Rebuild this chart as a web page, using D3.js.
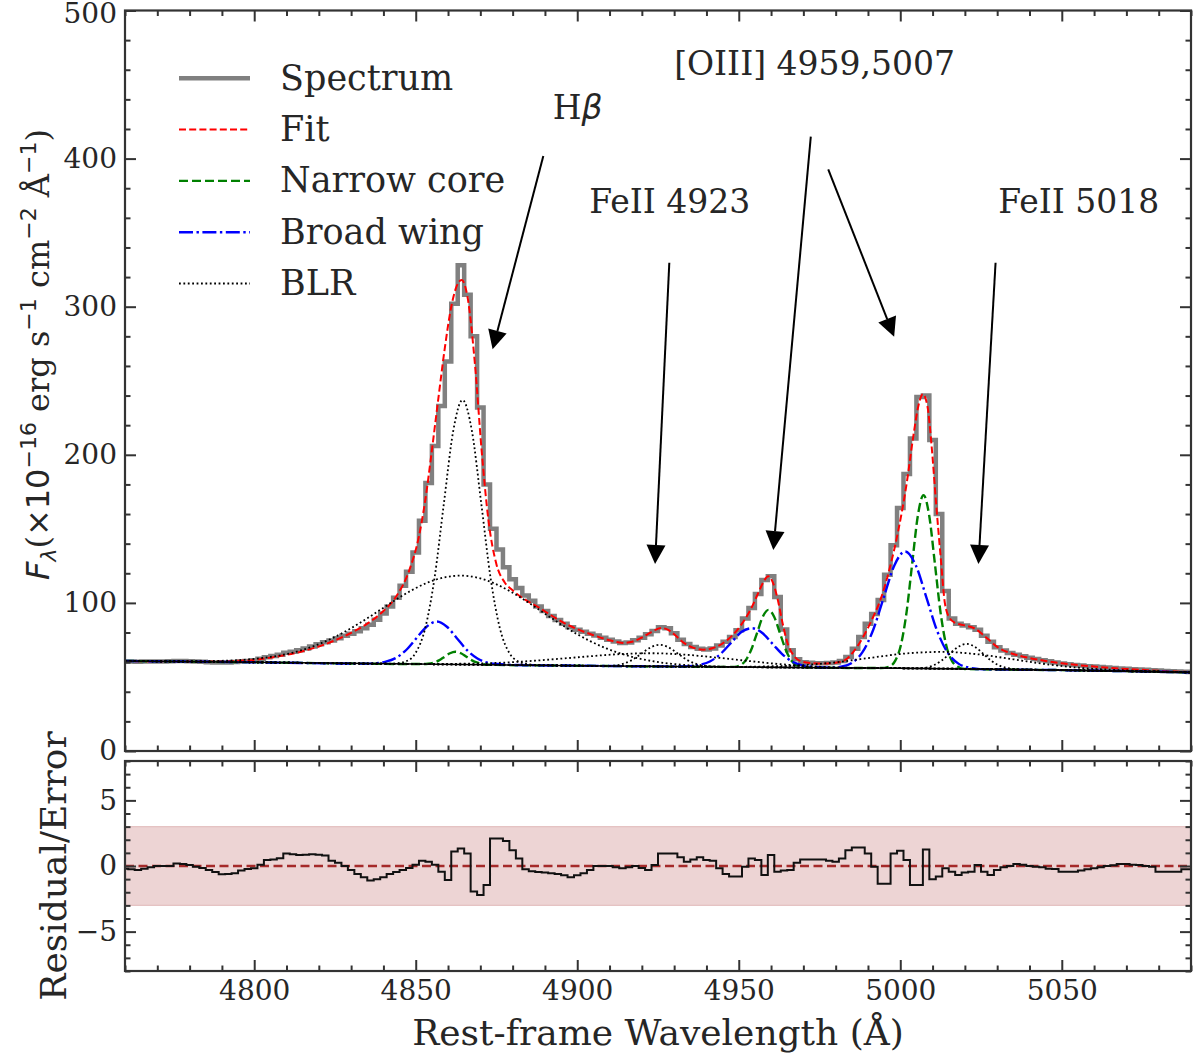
<!DOCTYPE html>
<html>
<head>
<meta charset="utf-8">
<script src="https://cdn.jsdelivr.net/npm/d3@7/dist/d3.min.js"></script>
<style>
  body { margin: 0; background: #fff; }
  svg { display: block; }
  text { font-family: "DejaVu Serif", serif; fill: #262626; }
</style>
</head>
<body>
<div id="chart"></div>
<script>
// ---- data -----------------------------------------------------------------

// spectrum pixel grid (rest-frame Angstrom) and observed flux per bin
var specWave = [
  4760, 4762, 4764, 4766, 4768, 4770, 4772, 4774, 4776, 4778,
  4780, 4782, 4784, 4786, 4788, 4790, 4792, 4794, 4796, 4798,
  4800, 4802, 4804, 4806, 4808, 4810, 4812, 4814, 4816, 4818,
  4820, 4822, 4824, 4826, 4828, 4830, 4832, 4834, 4836, 4838,
  4840, 4842, 4844, 4846, 4848, 4850, 4852, 4854, 4856, 4858,
  4860, 4862, 4864, 4866, 4868, 4870, 4872, 4874, 4876, 4878,
  4880, 4882, 4884, 4886, 4888, 4890, 4892, 4894, 4896, 4898,
  4900, 4902, 4904, 4906, 4908, 4910, 4912, 4914, 4916, 4918,
  4920, 4922, 4924, 4926, 4928, 4930, 4932, 4934, 4936, 4938,
  4940, 4942, 4944, 4946, 4948, 4950, 4952, 4954, 4956, 4958,
  4960, 4962, 4964, 4966, 4968, 4970, 4972, 4974, 4976, 4978,
  4980, 4982, 4984, 4986, 4988, 4990, 4992, 4994, 4996, 4998,
  5000, 5002, 5004, 5006, 5008, 5010, 5012, 5014, 5016, 5018,
  5020, 5022, 5024, 5026, 5028, 5030, 5032, 5034, 5036, 5038,
  5040, 5042, 5044, 5046, 5048, 5050, 5052, 5054, 5056, 5058,
  5060, 5062, 5064, 5066, 5068, 5070, 5072, 5074, 5076, 5078,
  5080, 5082, 5084, 5086, 5088, 5090
];
var specFlux = [
  60.4, 60.4, 60.2, 60.4, 60.5, 60.5, 60.5, 60.6, 60.8, 60.7,
  60.6, 60.4, 60.3, 60.0, 59.8, 59.7, 59.8, 60.1, 60.5, 60.8,
  61.2, 62.3, 63.3, 64.2, 65.0, 66.3, 67.1, 68.0, 69.2, 70.6,
  72.0, 73.4, 74.6, 76.2, 77.9, 79.2, 80.9, 82.8, 85.2, 88.6,
  92.8, 97.5, 103.5, 111.5, 121.0, 134.0, 155.5, 181.0, 206.0, 233.0,
  263.0, 302.0, 328.0, 308.0, 280.0, 232.0, 180.0, 150.0, 136.0, 124.0,
  116.0, 110.0, 105.0, 101.5, 97.5, 94.5, 91.2, 88.5, 86.0, 83.5,
  81.8, 80.5, 79.2, 78.0, 76.5, 75.2, 74.0, 73.0, 73.2, 74.8,
  76.4, 78.9, 81.0, 83.5, 82.8, 79.5, 75.2, 72.2, 70.2, 69.1,
  68.5, 69.2, 71.3, 73.8, 77.0, 81.5, 89.5, 96.5, 106.0, 115.5,
  118.0, 104.0, 82.0, 68.0, 62.0, 60.0, 59.6, 59.3, 59.2, 59.4,
  59.8, 60.8, 63.5, 69.0, 77.0, 86.0, 92.5, 102.0, 119.0, 139.0,
  164.0, 187.0, 211.0, 239.0, 240.0, 210.0, 160.0, 108.0, 89.5, 86.0,
  84.8, 83.6, 81.8, 77.8, 73.8, 70.0, 67.8, 66.2, 65.0, 63.9,
  63.0, 62.1, 61.3, 60.6, 59.8, 59.0, 58.5, 58.1, 57.7, 57.3,
  57.0, 56.7, 56.3, 56.0, 55.7, 55.5, 55.2, 55.0, 54.8, 54.6,
  54.3, 54.0, 53.8, 53.6, 53.5, 53.3
];
// (flux - model) / error on the same grid
var residual = [
  -0.2, -0.25, -0.3, -0.2, -0.1, 0.0, 0.0, 0.0, 0.2, 0.15,
  0.08, -0.05, -0.15, -0.3, -0.45, -0.63, -0.6, -0.55, -0.35, -0.22,
  -0.18, 0.1, 0.45, 0.5, 0.6, 0.96, 0.9, 0.83, 0.85, 0.9,
  0.85, 0.8, 0.4, 0.25, 0.0, -0.3, -0.6, -0.85, -1.1, -1.0,
  -0.85, -0.6, -0.45, -0.3, -0.15, 0.1, 0.4, 0.33, 0.1, -0.43,
  -1.06, 1.1, 1.34, 0.96, -1.94, -2.2, -1.44, 2.1, 2.1, 1.9,
  1.2, 0.58, -0.25, -0.4, -0.45, -0.5, -0.55, -0.6, -0.7, -0.86,
  -0.7, -0.55, -0.3, 0.0, 0.0, 0.0, -0.1, -0.18, -0.1, 0.0,
  -0.15, -0.3, 0.08, 0.96, 0.96, 0.96, 0.66, 0.33, 0.5, 0.66,
  0.45, 0.4, -0.18, -0.6, -0.8, -0.8, -0.05, 0.58, 0.45, -0.68,
  0.83, -0.43, -0.35, -0.3, 0.25, 0.5, 0.5, 0.5, 0.5, 0.4,
  0.33, 0.58, 1.2, 1.41, 1.41, 0.96, -0.05, -1.36, -1.36, 0.96,
  1.16, 0.45, -1.44, -1.44, 1.26, -1.01, -0.8, -0.18, -0.43, -0.68,
  -0.5, -0.43, 0.08, -0.43, -0.68, -0.3, -0.1, 0.0, 0.15, 0.1,
  0.0, -0.05, -0.1, -0.2, -0.23, -0.43, -0.43, -0.43, -0.35, -0.25,
  -0.18, -0.1, 0.0, 0.05, 0.15, 0.15, 0.1, 0.08, 0.0, -0.05,
  -0.43, -0.43, -0.43, -0.43, -0.25, -0.25
];

// total model [wavelength, flux]
var fitModel = [
  [4760,60.6],[4770,60.5],[4780,60.4],[4790,60.6],[4795,60.9],[4800,61.5],[4805,63.0],
  [4810,64.9],[4815,67.4],[4820,70.6],[4825,74.7],[4830,79.8],[4835,86.0],[4840,94.5],
  [4844,104.5],[4848,122],[4851,145],[4853,170],[4855,203],[4857,238],[4859,272],
  [4861,300],[4862.7,314],[4864.2,318],[4866,307],[4868.3,262],[4870.4,203],[4872.5,156],
  [4875,126],[4877.5,114],[4880,108.5],[4884,102],[4888,97],[4892,91.5],[4896,86.3],
  [4900,82.3],[4905,78.2],[4910,74.8],[4914,73.0],[4917,73.8],[4920,76.6],[4923,80.3],
  [4926,83.0],[4928,82.0],[4930,78.8],[4933,73.0],[4936,69.6],[4939,68.4],[4942,69.5],
  [4945,72.6],[4948,78],[4951,86],[4954,97],[4956,106.5],[4957.5,113.5],[4959.1,118],
  [4960.5,114],[4962,103],[4963.5,87],[4965,73.5],[4967,64.5],[4969,60.8],[4972,59.4],
  [4976,59.0],[4980,59.6],[4983,61.5],[4985.5,67],[4988.5,77],[4991.5,90],[4994,103],
  [4996.8,124],[4999.4,149],[5002,181],[5004,212],[5005.6,233],[5007,241],[5008.4,233],
  [5009.7,206],[5011.1,167],[5012.5,131],[5013.8,100],[5015.2,90],[5017,86.5],[5020,84.8],
  [5023,82.8],[5025.7,78.3],[5028,74],[5030,70.3],[5033,67],[5036,64.8],[5040,62.8],
  [5045,60.8],[5050,59.2],[5055,58],[5060,57],[5065,56.1],[5070,55.4],[5075,54.8],
  [5080,54.2],[5085,53.7],[5090,53.3]
];

// power-law continuum
var continuum = [
  [4760,60.8],[4800,59.9],[4850,58.7],[4900,57.6],[4950,56.7],[5000,55.9],[5050,54.6],[5090,53.1]
];

// narrow cores: Hbeta, [OIII]4959, [OIII]5007 (on top of continuum)
var narrowCore = [
  [4760,60.8],[4800,59.9],[4852,58.7],[4853.8,58.9],[4855.5,59.6],[4857.2,61.2],[4858.9,63.6],
  [4860.6,66.0],[4862.3,67.0],[4864,66.0],[4865.7,63.6],[4867.4,61.2],[4869.1,59.6],
  [4870.8,58.6],[4873,58.2],[4900,57.6],[4946,56.8],[4948.7,56.8],[4950.45,57.9],
  [4952.2,61.4],[4953.95,68.9],[4955.7,80.0],[4957.45,90.7],[4959.2,95.3],[4960.95,90.7],
  [4962.7,80.0],[4964.45,68.9],[4966.2,61.3],[4967.95,57.8],[4969.7,56.7],[4972,56.4],
  [4994,56.0],[4996.7,57.1],[4998.45,61.0],[5000.2,71.6],[5001.95,93.8],[5003.7,126.8],
  [5005.45,159],[5007.2,172.8],[5008.95,159],[5010.7,126.8],[5012.45,93.8],[5014.2,71.6],
  [5015.95,61.0],[5017.7,57.1],[5020,55.4],[5050,54.6],[5090,53.1]
];

// broad (outflow) wings
var broadWing = [
  [4760,60.8],[4800,59.9],[4834.4,59.0],[4837.6,59.3],[4840.75,60.3],[4843.9,62.9],
  [4847.05,68.2],[4850.2,76.1],[4853.35,83.9],[4856.5,87.4],[4859.65,83.9],[4862.8,76.0],
  [4865.95,67.9],[4869.1,62.5],[4872.25,59.6],[4875.4,58.7],[4878.6,58.2],[4900,57.6],
  [4931.6,57.1],[4934.8,57.3],[4938,58.2],[4941.2,60.6],[4944.4,65.6],[4947.6,73.0],
  [4950.8,80.3],[4954,82.9],[4957.2,79.9],[4960.4,72.5],[4963.6,65.1],[4966.8,60.1],
  [4970,57.7],[4973.2,56.8],[4978.4,56.3],[4981.7,56.9],[4985,59.5],[4988.3,66.7],
  [4991.6,81.7],[4994.9,103.8],[4998.2,125.5],[5001.5,134.7],[5004.8,125.4],[5008.1,103.6],
  [5011.4,81.2],[5014.7,66.3],[5018,59.0],[5021.3,56.3],[5024.6,55.3],[5050,54.6],[5090,53.1]
];

// broad-line-region components
var blrHbetaCore = [
  [4760,60.8],[4800,59.9],[4841.3,58.9],[4844.2,59.3],[4847.1,60.6],[4850,66.4],[4852.9,82.6],
  [4855.8,116.5],[4858.7,166.9],[4861.6,216],[4864.5,237],[4867.4,216],[4870.3,166.9],
  [4873.2,116.4],[4876.1,82.4],[4879,66.1],[4881.9,60.3],[4884.8,58.6],[4888,58.0],
  [4900,57.6],[4950,56.7],[5000,55.9],[5050,54.6],[5090,53.1]
];
var blrHbetaBroad = [
  [4760,60.8],[4774,60.6],[4784,60.7],[4794,61.2],[4804,63.2],[4809,65.0],[4814,67.6],
  [4819,71.3],[4824,76.0],[4829,81.7],[4834,88.2],[4839,95.3],[4844,102.4],[4849,108.8],
  [4854,114.0],[4859,117.3],[4864,118.4],[4869,117.1],[4874,113.5],[4879,108.1],[4884,101.5],
  [4889,94.2],[4894,86.9],[4899,80.1],[4904,74.2],[4909,69.3],[4914,65.4],[4919,62.5],
  [4924,60.4],[4934,58.0],[4944,57.0],[4960,56.5],[5000,55.9],[5050,54.6],[5090,53.1]
];
var blrFe4923 = [
  [4760,60.8],[4800,59.9],[4850,58.7],[4900,57.6],[4906.25,57.3],[4909,57.3],[4911.75,57.7],
  [4914.5,59.1],[4917.25,61.8],[4920,66.0],[4922.75,70.0],[4925.5,71.7],[4928.25,70.0],
  [4931,66.0],[4933.75,61.8],[4936.5,59.0],[4939.25,57.6],[4942,57.1],[4950,56.7],
  [5000,55.9],[5050,54.6],[5090,53.1]
];
var blrFe5018 = [
  [4760,60.8],[4800,59.9],[4850,58.7],[4900,57.6],[4950,56.7],[5000,55.9],[5004.9,55.8],
  [5007.5,56.1],[5010.1,57.7],[5012.7,60.9],[5015.3,65.7],[5017.9,70.3],[5020.5,72.3],
  [5023.1,70.3],[5025.7,65.6],[5028.3,60.7],[5030.9,57.5],[5033.5,55.9],[5036.1,55.2],
  [5040,54.9],[5050,54.6],[5090,53.1]
];
var blrFeBroadBlue = [
  [4760,60.8],[4800,59.9],[4850,58.7],[4863,58.9],[4873,59.3],[4883,60.4],[4893,62.0],
  [4903,63.8],[4913,65.4],[4923,66.0],[4933,65.1],[4943,63.1],[4953,60.8],[4963,58.6],
  [4973,57.1],[4983,56.2],[5000,55.9],[5050,54.6],[5090,53.1]
];
var blrFeBroadRed = [
  [4760,60.8],[4800,59.9],[4850,58.7],[4900,57.6],[4947,56.8],[4958,57.1],[4969,57.9],
  [4980,59.9],[4991,63.0],[5002,65.9],[5013,66.9],[5024,65.3],[5035,61.9],[5046,58.4],
  [5057,55.9],[5068,54.6],[5090,53.1]
];

// axes ticks
var xMajorTicks = [4800, 4850, 4900, 4950, 5000, 5050];
var fluxMajorTicks = [0, 100, 200, 300, 400, 500];
var residMajorTicks = [-5, 0, 5];

// legend entries
var legendNames = ["Spectrum", "Fit", "Narrow core", "Broad wing", "BLR"];

// annotation arrows [tail, tip] and their labels, in data units
var arrowLines = [
  [[4889.5, 401.8], [4873.8, 271.2]],
  [[4972.3, 414.8], [4960.7, 135.7]],
  [[4977.7, 392.8], [4998.1, 279.7]],
  [[4928.5, 329.7], [4924.1, 126.3]],
  [[5029.5, 329.7], [5024.2, 126.3]]
];
var lineLabels = [
  { pos: [4930.0, 456.5], text: "[OIII] 4959,5007" },
  { pos: [4903.7, 363.0], text: "FeII 4923" },
  { pos: [5030.3, 363.0], text: "FeII 5018" }
];
var hbetaLabelPos = [4892.4, 426.5];

// ---- layout ----------------------------------------------------------------
var fullWidth = 1200, fullHeight = 1057;
var left = 125, right = 1191;
var topPanel = { top: 10.5, bottom: 751 };
var botPanel = { top: 761, bottom: 971 };
var axisColor = "#333";
var serif = "'DejaVu Serif', serif";
var sans = "'DejaVu Sans', sans-serif";

var styles = {
  "Spectrum":    { stroke: "#808080", width: 4.5, dash: null },
  "Fit":         { stroke: "#ff0000", width: 2, dash: "7,3.2" },
  "Narrow core": { stroke: "#008000", width: 2.4, dash: "9,4" },
  "Broad wing":  { stroke: "#0000ff", width: 2.4, dash: "14,3.5,2.4,3.5" },
  "BLR":         { stroke: "#000000", width: 1.8, dash: "1.8,2.6" }
};

var x = d3.scaleLinear().domain([4760, 5090]).range([left, right]);
var yFlux = d3.scaleLinear().domain([0, 500]).range([topPanel.bottom, topPanel.top]);
var yRes = d3.scaleLinear().domain([-8, 8]).range([botPanel.bottom, botPanel.top]);

var svg = d3.select("#chart").append("svg")
    .attr("width", fullWidth)
    .attr("height", fullHeight)
    .attr("viewBox", "0 0 " + fullWidth + " " + fullHeight);

svg.append("rect").attr("width", fullWidth).attr("height", fullHeight).attr("fill", "#fff");

var defs = svg.append("defs");
defs.append("clipPath").attr("id", "clipTop").append("rect")
    .attr("x", left).attr("y", topPanel.top)
    .attr("width", right - left).attr("height", topPanel.bottom - topPanel.top);
defs.append("clipPath").attr("id", "clipBot").append("rect")
    .attr("x", left).attr("y", botPanel.top)
    .attr("width", right - left).attr("height", botPanel.bottom - botPanel.top);

function styled(path, name) {
    var s = styles[name];
    path.attr("fill", "none")
        .attr("stroke", s.stroke)
        .attr("stroke-width", s.width);
    if (s.dash) path.attr("stroke-dasharray", s.dash);
    return path;
}

// ---- top panel: spectrum and model -----------------------------------------
var topG = svg.append("g").attr("clip-path", "url(#clipTop)");

var specLine = d3.line()
    .x(function(d, i) { return x(specWave[i]); })
    .y(function(d) { return yFlux(d); })
    .curve(d3.curveStep);

var smoothLine = d3.line()
    .x(function(d) { return x(d[0]); })
    .y(function(d) { return yFlux(d[1]); })
    .curve(d3.curveMonotoneX);

styled(topG.append("path").datum(specFlux).attr("d", specLine), "Spectrum")
    .attr("stroke-linejoin", "miter");
styled(topG.append("path").datum(fitModel).attr("d", smoothLine), "Fit");
styled(topG.append("path").datum(narrowCore).attr("d", smoothLine), "Narrow core");
styled(topG.append("path").datum(broadWing).attr("d", smoothLine), "Broad wing");
[blrHbetaCore, blrHbetaBroad, blrFe4923, blrFe5018, blrFeBroadBlue, blrFeBroadRed].forEach(function(comp) {
    styled(topG.append("path").datum(comp).attr("d", smoothLine), "BLR");
});
topG.append("path").datum(continuum)
    .attr("d", d3.line().x(function(d) { return x(d[0]); }).y(function(d) { return yFlux(d[1]); }))
    .attr("fill", "none").attr("stroke", "#000").attr("stroke-width", 1.6);

// ---- bottom panel: residuals -----------------------------------------------
var botG = svg.append("g").attr("clip-path", "url(#clipBot)");

botG.append("rect")
    .attr("x", left).attr("width", right - left)
    .attr("y", yRes(3)).attr("height", yRes(-3) - yRes(3))
    .attr("fill", "rgba(165,42,42,0.2)")
    .attr("stroke", "rgba(165,42,42,0.25)").attr("stroke-width", 1);

botG.append("line")
    .attr("x1", left).attr("x2", right)
    .attr("y1", yRes(0)).attr("y2", yRes(0))
    .attr("stroke", "#a52a2a").attr("stroke-width", 2.4)
    .attr("stroke-dasharray", "9,4.5");

botG.append("path").datum(residual)
    .attr("d", d3.line()
        .x(function(d, i) { return x(specWave[i]); })
        .y(function(d) { return yRes(d); })
        .curve(d3.curveStep))
    .attr("fill", "none").attr("stroke", "#111").attr("stroke-width", 2);

// ---- axes with inward ticks on all four sides ------------------------------
var xMinorTicks = d3.range(4760, 5091, 10).filter(function(v) { return xMajorTicks.indexOf(v) < 0; });

function drawAxes(yScale, majors, minors, top, bottom, xLabels) {
    var g = svg.append("g");
    var fmtX = xLabels ? d3.format("d") : "";

    g.append("g").attr("transform", "translate(0," + bottom + ")")
        .call(d3.axisBottom(x).tickValues(xMajorTicks).tickSize(-11).tickPadding(9).tickFormat(fmtX));
    g.append("g").attr("transform", "translate(0," + bottom + ")")
        .call(d3.axisBottom(x).tickValues(xMinorTicks).tickSize(-5.5).tickFormat(""));
    g.append("g").attr("transform", "translate(0," + top + ")")
        .call(d3.axisTop(x).tickValues(xMajorTicks).tickSize(-11).tickFormat(""));
    g.append("g").attr("transform", "translate(0," + top + ")")
        .call(d3.axisTop(x).tickValues(xMinorTicks).tickSize(-5.5).tickFormat(""));

    var yAxisG = g.append("g").attr("transform", "translate(" + left + ",0)")
        .call(d3.axisLeft(yScale).tickValues(majors).tickSize(-11).tickPadding(8).tickFormat(d3.format("d")));
    g.append("g").attr("transform", "translate(" + left + ",0)")
        .call(d3.axisLeft(yScale).tickValues(minors).tickSize(-5.5).tickFormat(""));
    g.append("g").attr("transform", "translate(" + right + ",0)")
        .call(d3.axisRight(yScale).tickValues(majors).tickSize(-11).tickFormat(""));
    g.append("g").attr("transform", "translate(" + right + ",0)")
        .call(d3.axisRight(yScale).tickValues(minors).tickSize(-5.5).tickFormat(""));

    g.selectAll(".domain").remove();
    g.selectAll("g").attr("font-family", serif).attr("font-size", 28);
    g.selectAll(".tick line").attr("stroke", axisColor).attr("stroke-width", 2);
    g.selectAll(".tick text")
        .attr("fill", "#262626")
        .style("font-family", serif)
        .style("font-size", "28px");

    // keep the topmost label inside the page
    yAxisG.selectAll(".tick text")
        .filter(function(d) { return yScale(d) - 12 < 0; })
        .attr("dy", "0.42em");

    g.append("rect")
        .attr("x", left).attr("y", top)
        .attr("width", right - left).attr("height", bottom - top)
        .attr("fill", "none").attr("stroke", axisColor).attr("stroke-width", 2.2);
}

drawAxes(yFlux, fluxMajorTicks, d3.range(0, 501, 20).filter(function(v) { return v % 100; }),
    topPanel.top, topPanel.bottom, false);
drawAxes(yRes, residMajorTicks, d3.range(-8, 9, 1).filter(function(v) { return v % 5; }),
    botPanel.top, botPanel.bottom, true);

// ---- axis labels -----------------------------------------------------------
svg.append("text")
    .attr("x", (left + right) / 2).attr("y", 1045)
    .attr("text-anchor", "middle")
    .style("font-size", "36px")
    .text("Rest-frame Wavelength (\u00c5)");

svg.append("text")
    .attr("transform", "translate(66," + (botPanel.top + botPanel.bottom) / 2 + ") rotate(-90)")
    .attr("text-anchor", "middle")
    .style("font-size", "36px")
    .text("Residual/Error");

var yLab = svg.append("text")
    .attr("transform", "translate(49,580) rotate(-90)")
    .attr("text-anchor", "start")
    .style("font-size", "32px");
yLab.append("tspan").style("font-family", sans).style("font-style", "italic").text("F");
yLab.append("tspan").style("font-family", sans).style("font-style", "italic")
    .style("font-size", "22px").attr("dy", 7).text("\u03bb");
yLab.append("tspan").attr("dy", -7).text("(");
yLab.append("tspan").style("font-family", sans).text("\u00d710");
yLab.append("tspan").style("font-family", sans).style("font-size", "22px").attr("dy", -13).text("\u221216");
yLab.append("tspan").attr("dy", 13).text(" erg s");
yLab.append("tspan").style("font-family", sans).style("font-size", "22px").attr("dy", -13).text("\u22121");
yLab.append("tspan").attr("dy", 13).text(" cm");
yLab.append("tspan").style("font-family", sans).style("font-size", "22px").attr("dy", -13).text("\u22122");
yLab.append("tspan").attr("dy", 13).text(" \u00c5");
yLab.append("tspan").style("font-family", sans).style("font-size", "22px").attr("dy", -13).text("\u22121");
yLab.append("tspan").attr("dy", 13).text(")");

// ---- legend ----------------------------------------------------------------
var legend = svg.append("g").attr("class", "legend");
legendNames.forEach(function(name, i) {
    var cy = 78.3 + i * 51.3;
    styled(legend.append("line")
        .attr("x1", 179).attr("x2", 250)
        .attr("y1", cy).attr("y2", cy), name);
    legend.append("text")
        .attr("x", 280).attr("y", cy + 11.5)
        .style("font-size", "35px")
        .text(name);
});

// ---- line identifications --------------------------------------------------
var ann = svg.append("g").attr("class", "annotations");

arrowLines.forEach(function(a) {
    var x1 = x(a[0][0]), y1 = yFlux(a[0][1]);
    var x2 = x(a[1][0]), y2 = yFlux(a[1][1]);
    var len = Math.hypot(x2 - x1, y2 - y1);
    var ux = (x2 - x1) / len, uy = (y2 - y1) / len;
    var headLen = 19, headHalf = 9.5;
    var bx = x2 - ux * headLen, by = y2 - uy * headLen;
    ann.append("line")
        .attr("x1", x1).attr("y1", y1).attr("x2", bx).attr("y2", by)
        .attr("stroke", "#000").attr("stroke-width", 2);
    ann.append("path")
        .attr("d", "M" + x2 + "," + y2 +
            "L" + (bx - uy * headHalf) + "," + (by + ux * headHalf) +
            "L" + (bx + uy * headHalf) + "," + (by - ux * headHalf) + "Z")
        .attr("fill", "#000");
});

lineLabels.forEach(function(l) {
    ann.append("text")
        .attr("x", x(l.pos[0])).attr("y", yFlux(l.pos[1]))
        .style("font-size", "33px")
        .text(l.text);
});

var hb = ann.append("text")
    .attr("x", x(hbetaLabelPos[0])).attr("y", yFlux(hbetaLabelPos[1]))
    .style("font-size", "33px");
hb.append("tspan").text("H");
hb.append("tspan").style("font-family", sans).style("font-style", "italic").text("\u03b2");
</script>
</body>
</html>
